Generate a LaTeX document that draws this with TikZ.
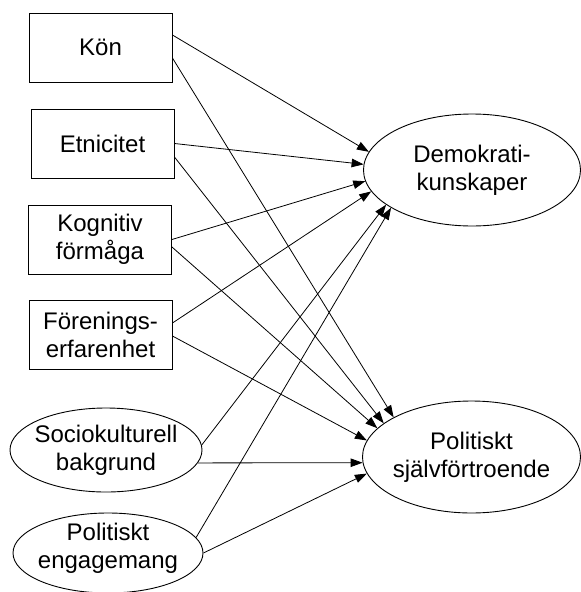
\documentclass[tikz,border=0pt]{standalone}
\usepackage{fontspec}
\setmainfont{Liberation Sans}
\usetikzlibrary{shapes.geometric,arrows.meta}

\tikzset{
  lbl/.style={font=\fontsize{24}{28}\selectfont, align=center, inner sep=0pt},
  varbox/.style={draw, line width=0.9pt, minimum width=143pt, minimum height=69pt,
                 inner sep=0pt, align=center, font=\fontsize{24}{28}\selectfont},
  latsmall/.style={draw, line width=0.9pt, ellipse, minimum width=192pt,
                   minimum height=84pt, inner sep=0pt},
  latbig/.style={draw, line width=0.9pt, ellipse, minimum width=217pt,
                 minimum height=112pt, inner sep=0pt},
  path/.style={line width=0.8pt, -{Triangle[length=12pt,width=8.5pt]}}
}

\begin{document}
\begin{tikzpicture}[x=1pt, y=-1pt]
  \path[use as bounding box] (0,0) rectangle (581,592);

  % exogenous variables
  \node[varbox] (kon) at (100.5,47.5) {Kön};
  \node[varbox] (etn) at (102.5,143.5) {Etnicitet};
  \node[varbox] (kog) at (100,239.5) {Kognitiv\\förmåga};
  \node[varbox] (for) at (100.5,335) {Förenings-\\erfarenhet};

  \node[latsmall] (soc) at (106,450) {};
  \node[lbl] (soct) at (soc.center) {Sociokulturell\\bakgrund};
  \node[latsmall, minimum height=80pt, minimum width=190pt] (pol) at (108,553) {};
  \node[lbl] (polt) at ([yshift=5pt]pol.center) {Politiskt\\engagemang};

  % outcomes
  \node[latbig] (dem) at (472,170) {};
  \node[lbl] (demt) at (dem.center) {Demokrati-\\kunskaper};
  \node[latbig, minimum width=218pt] (sjf) at (471.5,457) {};
  \node[lbl] (sjft) at (sjf.center) {Politiskt\\självförtroende};

  % paths to Demokratikunskaper
  \draw[path] ([yshift=12.5pt]kon.east) -- (dem.170);
  \draw[path] ([yshift=0pt]etn.east) -- (dem.177);
  \draw[path] ([yshift=0pt]kog.east) -- (dem.186);
  \draw[path] ([yshift=12pt]for.east) -- (dem.192);
  \draw[path] (soc.3) -- (dem.202);
  \draw[path] (pol.10) -- (dem.205);

  % paths to Politiskt självförtroende
  \draw[path] ([yshift=-10.5pt]kon.east) -- (sjf.153);
  \draw[path] ([yshift=-13.5pt]etn.east) -- (sjf.159);
  \draw[path] ([yshift=-7.5pt]kog.east) -- (sjf.163.5);
  \draw[path] ([yshift=-1pt]for.east) -- (sjf.171);
  \draw[path] (soc.-8) -- (sjf.183);
  \draw[path] (pol.east) -- (sjf.189);
\end{tikzpicture}
\end{document}
